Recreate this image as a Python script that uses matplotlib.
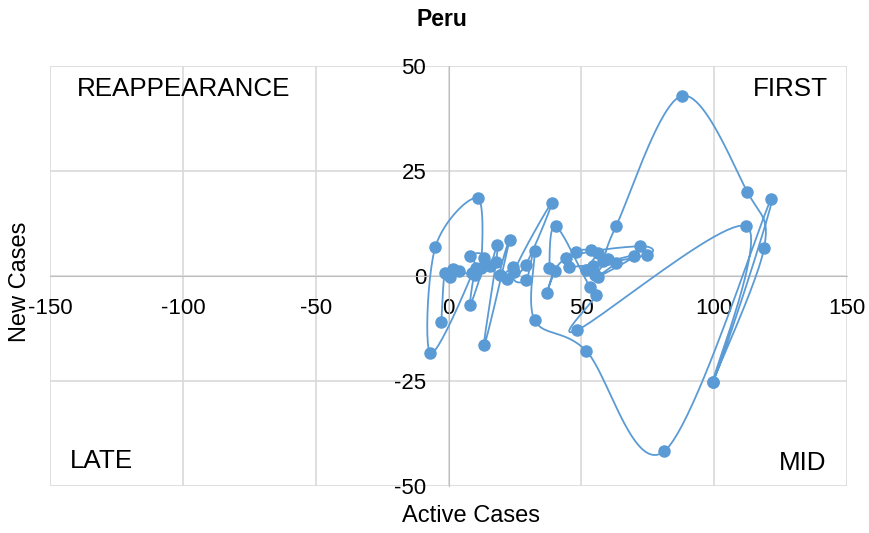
import matplotlib
matplotlib.use('Agg')
import matplotlib.pyplot as plt
import numpy as np

plt.rcParams['font.family'] = ['Liberation Sans', 'DejaVu Sans']
plt.rcParams['axes.unicode_minus'] = False

# data, in drawing order
active = [-2.7, -1.5, 0.4, 1.6, 3.9, 9.8, 12.3, 11.0, -4.9, -6.8,
          9.0, 8.2, 13.5, 8.2, 10.5, 15.5, 18.3, 17.9, 13.5, 23.0,
          19.2, 24.2, 22.0, 29.0, 38.9, 24.7, 29.2, 32.4, 32.4, 51.8,
          81.3, 121.5, 99.5, 112.0, 48.4, 55.6, 53.1, 40.3, 38.0, 39.9,
          37.0, 44.3, 71.9, 74.6, 45.5, 48.1, 53.7, 56.2, 51.8, 55.0,
          60.0, 63.1, 56.2, 70.0, 54.5, 58.0, 63.1, 87.8, 112.5, 118.8,
          99.5]
new_cases = [-10.9, 0.6, -0.2, 1.6, 1.2, 0.2, 1.8, 18.5, 7.0, -18.4,
             0.7, 4.8, 4.2, -6.9, 2.0, 2.5, 7.4, 3.4, -16.4, 8.6,
             0.2, 2.1, -0.8, 2.6, 17.5, 1.0, -1.0, 6.0, -10.5, -17.8,
             -41.7, 18.3, -25.2, 11.9, -12.9, -4.5, -2.5, 11.9, 1.8, 1.3,
             -4.1, 4.2, 7.1, 5.0, 2.2, 5.8, 6.2, 5.5, 1.4, 0.2,
             4.0, 3.2, -0.2, 4.8, 2.5, 3.5, 11.9, 42.9, 20.0, 6.7,
             -25.2]

x_ticks = [-150, -100, -50, 0, 50, 100, 150]
y_ticks = [-50, -25, 0, 25, 50]
quadrants = ['REAPPEARANCE', 'FIRST', 'LATE', 'MID']

blue = '#5b9bd5'
grid = '#d9d9d9'


# Excel-like smoothed line (Catmull-Rom as cubic Bezier), done in pixel space
def smooth(xs, ys, sx, sy, n=24):
    p = np.column_stack([np.asarray(xs) * sx, np.asarray(ys) * sy])
    ext = np.vstack([p[0], p, p[-1]])
    t = np.linspace(0, 1, n + 1)[1:, None]
    out = [p[:1]]
    for i in range(len(p) - 1):
        p0, p1, p2, p3 = ext[i], ext[i + 1], ext[i + 2], ext[i + 3]
        c1 = p1 + (p2 - p0) / 6
        c2 = p2 - (p3 - p1) / 6
        seg = ((1 - t) ** 3 * p1 + 3 * (1 - t) ** 2 * t * c1
               + 3 * (1 - t) * t ** 2 * c2 + t ** 3 * p2)
        out.append(seg)
    pts = np.vstack(out)
    return pts[:, 0] / sx, pts[:, 1] / sy


fig = plt.figure(figsize=(8.69, 5.33), dpi=100)
ax = fig.add_axes([50 / 869, 47 / 533, 797 / 869, 420 / 533])

ax.set_xlim(-150, 150)
ax.set_ylim(-50, 50)
ax.set_xticks(x_ticks)
ax.set_yticks(y_ticks)
ax.grid(True, color=grid, lw=1.2, zorder=0)

for s in ['top', 'right']:
    ax.spines[s].set_visible(False)
ax.spines['left'].set_position(('data', 0))
ax.spines['bottom'].set_position(('data', 0))
ax.spines['left'].set_color('#bfbfbf')
ax.spines['bottom'].set_color('#bfbfbf')
ax.tick_params(length=0, labelsize=16, colors='black')
ax.tick_params(axis='x', pad=16)
ax.tick_params(axis='y', pad=16)

sx, sy = 797 / 300, 420 / 100
lx, ly = smooth(active, new_cases, sx, sy)
ax.plot(lx, ly, color=blue, lw=1.3, zorder=3, clip_on=False)
ax.plot(active, new_cases, 'o', color=blue, ms=8, zorder=4, clip_on=False)

fs = 18.7
fig.text(77 / 869, 1 - 89 / 533, quadrants[0], fontsize=fs, ha='left', va='center')
fig.text(828 / 869, 1 - 89 / 533, quadrants[1], fontsize=fs, ha='right', va='center')
fig.text(70 / 869, 1 - 461 / 533, quadrants[2], fontsize=fs, ha='left', va='center')
fig.text(826 / 869, 1 - 463 / 533, quadrants[3], fontsize=fs, ha='right', va='center')

fig.text(442 / 869, 1 - 20 / 533, 'Peru', fontsize=16.5, fontweight='bold',
         ha='center', va='center')
fig.text(471 / 869, 1 - 516 / 533, 'Active Cases', fontsize=17,
         ha='center', va='center')
fig.text(20 / 869, 1 - 282 / 533, 'New Cases', fontsize=17, rotation=90,
         ha='center', va='center')

fig.savefig('out.png', dpi=100)
